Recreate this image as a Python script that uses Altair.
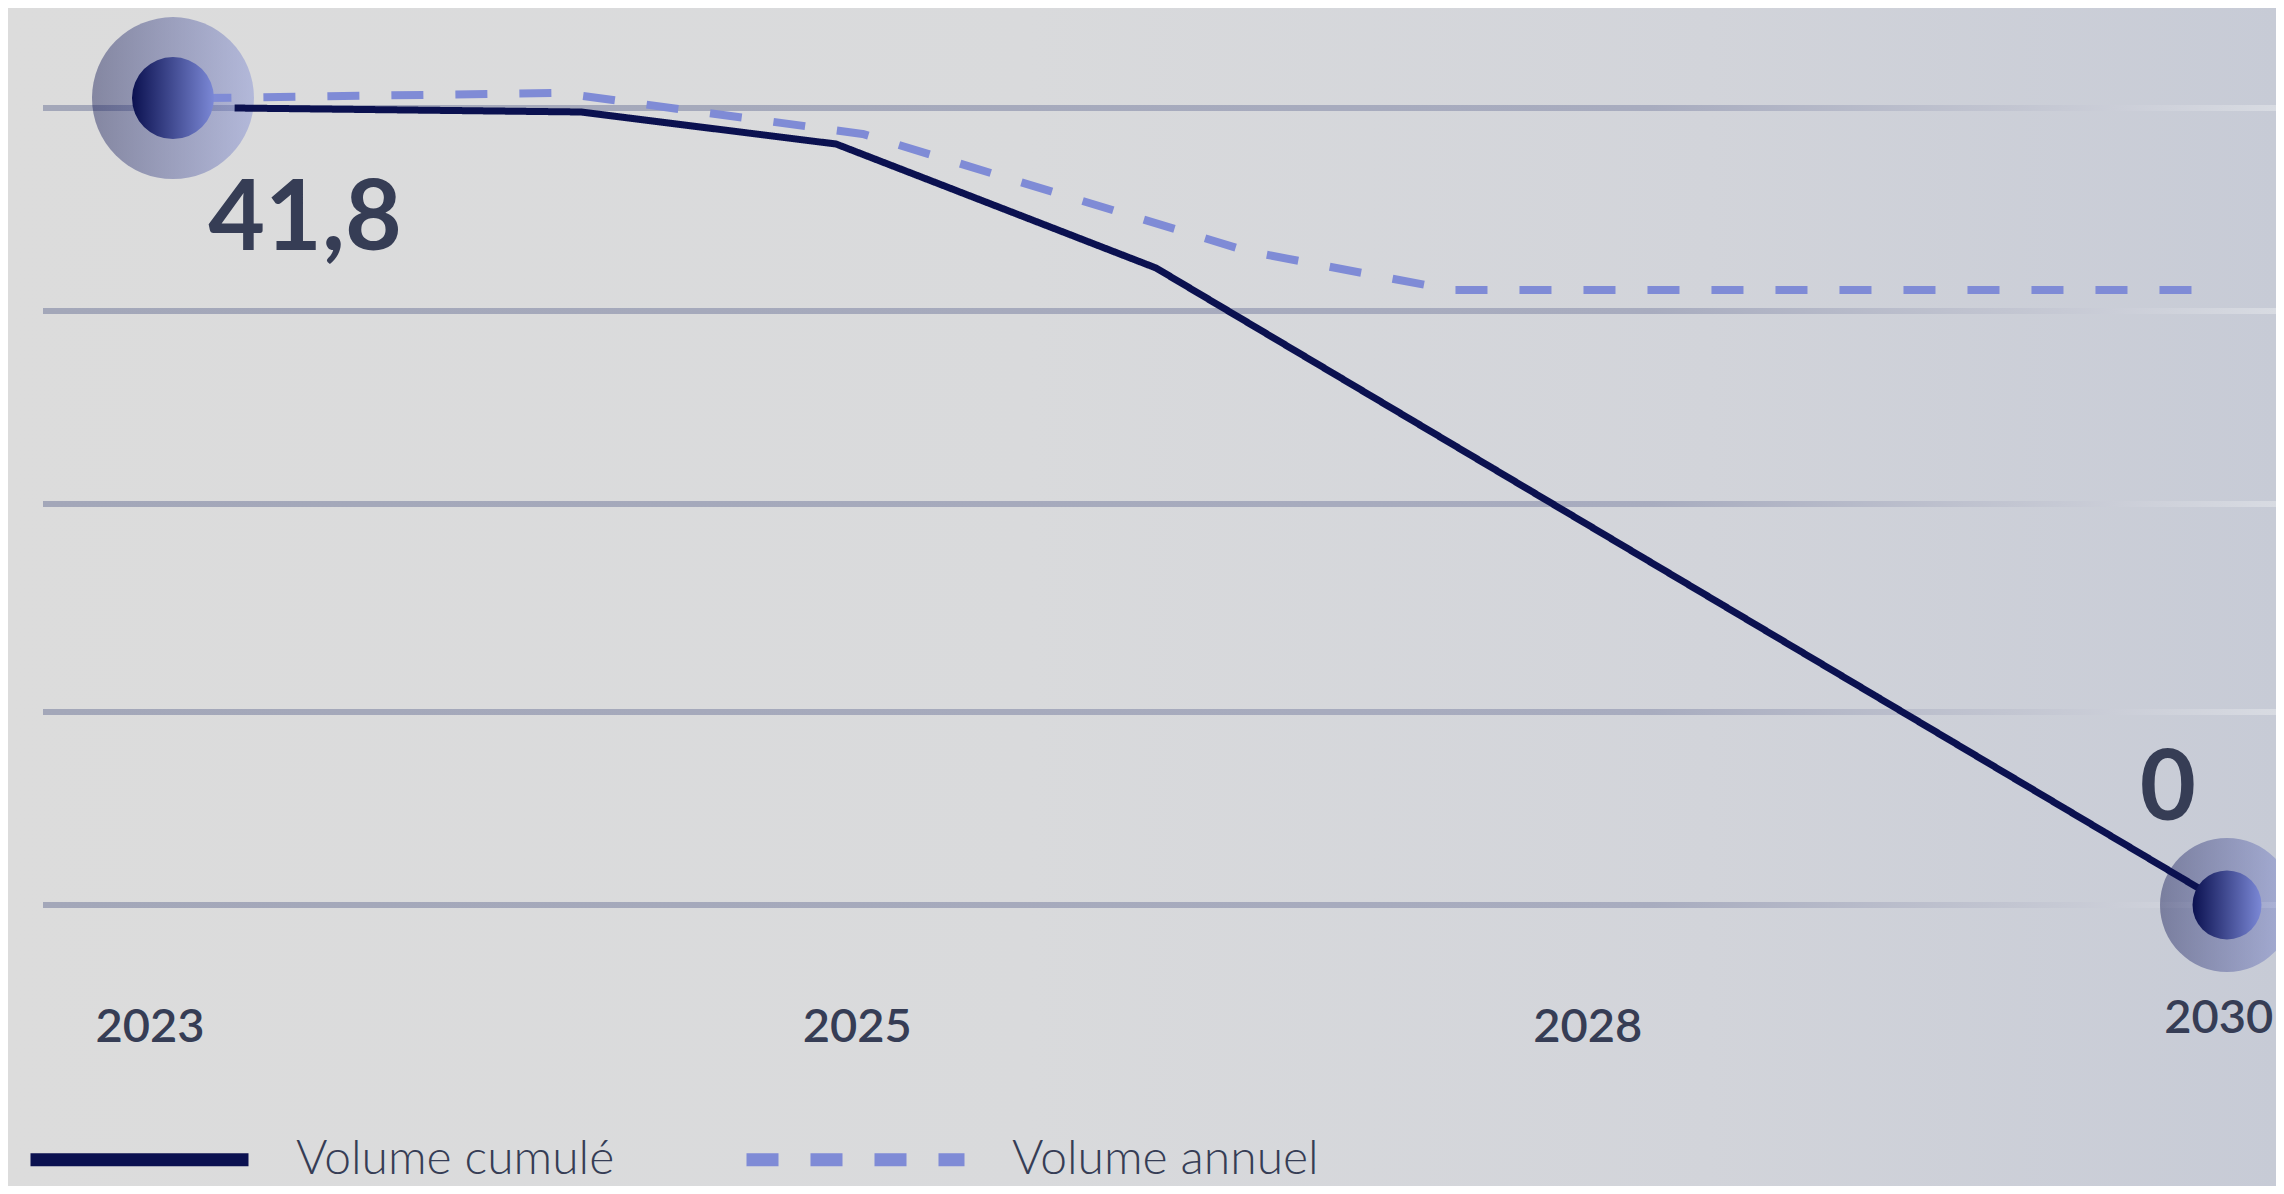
import json
import altair as alt
import pandas as pd

# ---------------- data ----------------
series_names = ["Volume cumulé", "Volume annuel"]

cumul_years = [2023.21, 2024.39, 2025.26, 2026.35, 2030.0]
cumul_values = [41.8, 41.59, 39.91, 33.41, 0.0]

annual_years = [2023.09, 2024.32, 2025.35, 2026.66, 2027.36, 2029.88]
annual_values = [42.32, 42.59, 40.44, 34.30, 32.25, 32.25]

marker_years = [2023, 2030]
marker_values = [42.32, 0.0]
marker_labels = ["41,8", "0"]

tick_positions = [2022.92, 2025.33, 2027.82, 2029.97]
tick_labels = ["2023", "2025", "2028", "2030"]

grid_values = [0, 10.12, 21.03, 31.15, 41.8]

# ---------------- tables ----------------
cumul_df = pd.DataFrame({"year": cumul_years, "value": cumul_values,
                         "series": series_names[0]})
annual_df = pd.DataFrame({"year": annual_years, "value": annual_values,
                          "series": series_names[1]})
marker_df = pd.DataFrame({"year": marker_years, "value": marker_values,
                          "label": marker_labels})
grid_df = pd.DataFrame({"value": grid_values})
bg_df = pd.DataFrame({"k": [0]})

W, H = 2268, 1178
NAVY = "#0b1150"
PERI = "#7f8bd6"
TEXT = "#363d55"

xscale = alt.Scale(domain=[2022.4377, 2030.167], nice=False, zero=False)
yscale = alt.Scale(domain=[-14.7376, 47.0446], nice=False, zero=False)

label_expr = f"{json.dumps(tick_labels)}[round(datum.index*{len(tick_labels) - 1})]"

xaxis = alt.Axis(
    values=tick_positions, labelExpr=label_expr, orient="bottom", offset=-145,
    ticks=False, tickSize=0, domain=False, grid=False,
    labelPadding={"condition": {"test": "datum.value > 2029.5", "value": -9}, "value": 0},
    labelBaseline="alphabetic", labelFont="Lato", labelFontSize=47,
    labelFontWeight=600, labelColor=TEXT, labelFlush=False, labelOverlap=False,
    title=None, zindex=1,
)
X = alt.X("year:Q", scale=xscale, axis=xaxis)
Y = alt.Y("value:Q", scale=yscale, axis=None)

legend = alt.Legend(
    title=None, orient="none", legendX=16, legendY=1036, direction="horizontal",
    symbolType="stroke", symbolSize=218 ** 2, symbolStrokeWidth=13,
    labelFont="Lato", labelFontSize=48, labelFontWeight=300, labelColor=TEXT,
    labelOffset=41, columnPadding=105, padding=0, labelLimit=0,
)
color_enc = alt.Color("series:N", scale=alt.Scale(domain=series_names, range=[NAVY, PERI]),
                      legend=legend)
dash_enc = alt.StrokeDash("series:N",
                          scale=alt.Scale(domain=series_names, range=[[1, 0], [32, 32]]),
                          legend=legend)

bg_grad = alt.LinearGradient(
    gradient="linear", x1=0, y1=0, x2=1, y2=0,
    stops=[alt.GradientStop(offset=0, color="#dcdcdc"),
           alt.GradientStop(offset=0.45, color="#d9dadc"),
           alt.GradientStop(offset=0.75, color="#d2d4da"),
           alt.GradientStop(offset=1, color="#c7cbd6")])
grid_grad = alt.LinearGradient(
    gradient="linear", x1=0, y1=0, x2=1, y2=0,
    stops=[alt.GradientStop(offset=0, color="#a3a7b9"),
           alt.GradientStop(offset=0.72, color="#a8acbf"),
           alt.GradientStop(offset=0.88, color="#c2c5d1"),
           alt.GradientStop(offset=1, color="#d8dbe2")])
marker_grad = alt.LinearGradient(
    gradient="linear", x1=0, y1=0, x2=1, y2=0,
    stops=[alt.GradientStop(offset=0, color=NAVY),
           alt.GradientStop(offset=1, color="#7b88d6")])

background = alt.Chart(bg_df).mark_rect(color=bg_grad).encode(
    x=alt.value(0), x2=alt.value(W), y=alt.value(0), y2=alt.value(H))

grid = alt.Chart(grid_df).mark_rect(color=grid_grad, yOffset=-3, y2Offset=3).encode(
    x=alt.value(35), x2=alt.value(W), y=Y, y2="value:Q")

halo = alt.Chart(marker_df).mark_circle(color=marker_grad, opacity=0.42).encode(
    x=X, y=Y,
    size=alt.condition("datum.year < 2025", alt.value(162 ** 2), alt.value(134 ** 2)))

line_cumul = alt.Chart(cumul_df).mark_line(strokeWidth=7, strokeJoin="round").encode(
    x=X, y=Y, color=color_enc, strokeDash=dash_enc)
line_annual = alt.Chart(annual_df).mark_line(strokeWidth=8, strokeJoin="round").encode(
    x=X, y=Y, color=color_enc, strokeDash=dash_enc)

inner = alt.Chart(marker_df).mark_circle(color=marker_grad, opacity=1).encode(
    x=X, y=Y,
    size=alt.condition("datum.year < 2025", alt.value(82 ** 2), alt.value(69 ** 2)))

label_start = alt.Chart(marker_df).transform_filter("datum.year < 2025").mark_text(
    dx=132, dy=152, align="center", baseline="alphabetic", font="Lato",
    fontWeight=700, fontSize=98, color=TEXT).encode(x=X, y=Y, text="label:N")
label_end = alt.Chart(marker_df).transform_filter("datum.year > 2025").mark_text(
    dx=-59, dy=-85, align="center", baseline="alphabetic", font="Lato",
    fontWeight=700, fontSize=97, color=TEXT).encode(x=X, y=Y, text="label:N")

chart = alt.layer(
    background, grid, halo, line_cumul, line_annual, inner, label_start, label_end
).properties(
    width=W, height=H, padding=0, autosize=alt.AutoSizeParams(type="none")
).configure_view(stroke=None)

chart.save("out.html", embed_options={"renderer": "svg", "actions": False})
